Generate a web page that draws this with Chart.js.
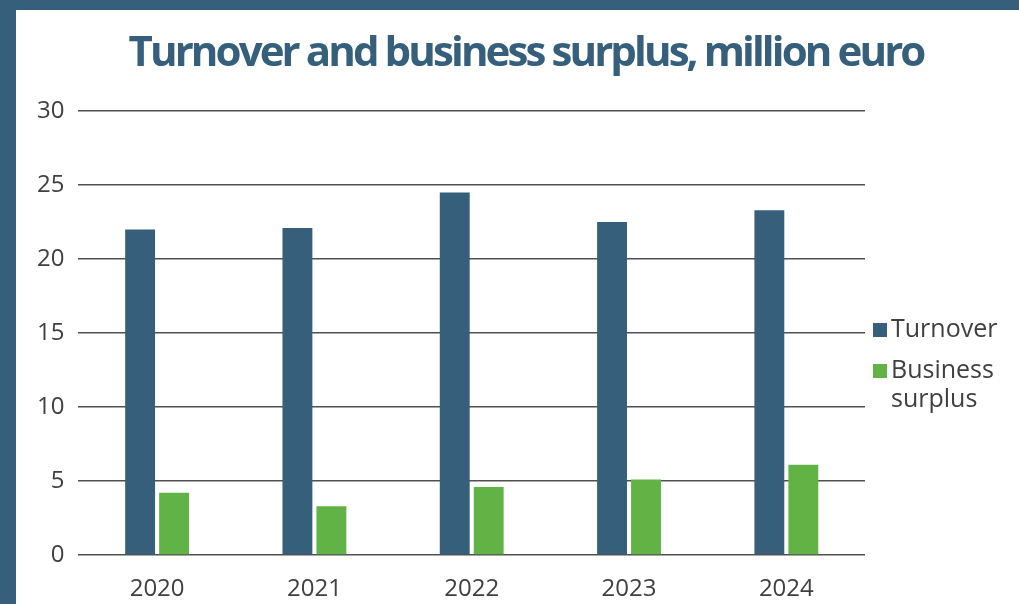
<!DOCTYPE html>
<html>
	<head>
		<title>Turnover and business surplus</title>
		<meta name="viewport" content="width=device-width, initial-scale=1">
		<style>
html, body {
	margin: 0;
	padding: 0;
	background-color: #365f7b;
	overflow: hidden;
}
	.frame {
		position: absolute;
		left: 16px;
		top: 10px;
		width: 1003px;
		height: 594px;
		background-color: #ffffff;
	}
	canvas {
		position: absolute;
		left: 0;
		top: 0;
	}
	h1 {
		position: absolute;
		left: 17px;
		width: 986px;
		top: 14px;
		margin: 0;
		text-align: center;
		font-family: "Open Sans", sans-serif;
		font-size: 42px;
		font-weight: 700;
		letter-spacing: -2.9px;
		line-height: 52px;
		color: #365f7b;
		white-space: nowrap;
	}
		</style>
	</head>
	<body>
		<div class="frame">
			<canvas id="barChart" width="1003" height="594"></canvas>
			<h1>Turnover and business surplus, million euro</h1>
		</div>

		<script src="https://cdn.jsdelivr.net/npm/chart.js"></script>
		<script>
			// Yearly figures, million euro
			const years = ['2020', '2021', '2022', '2023', '2024'];
			const turnover = [22.0, 22.1, 24.5, 22.5, 23.3];
			const businessSurplus = [4.2, 3.3, 4.6, 5.1, 6.1];
			const seriesNames = [['Turnover'], ['Business', 'surplus']];

			const textColor = '#404040';
			const ctx = document.getElementById('barChart').getContext('2d');

			// legend drawn next to the plot area, box close to the text
			const sideLegend = {
				id: 'sideLegend',
				afterDraw(chart) {
					const c = chart.ctx;
					const area = chart.chartArea;
					const mid = (area.top + area.bottom) / 2;
					const lineH = 29;
					let y = mid - 3;
					c.save();
					c.font = '25px "Open Sans"';
					c.textBaseline = 'middle';
					c.textAlign = 'left';
					chart.data.datasets.forEach((ds, i) => {
						c.fillStyle = ds.backgroundColor;
						c.fillRect(area.right + 8, y - 7, 14, 14);
						c.fillStyle = textColor;
						seriesNames[i].forEach((line, j) => {
							c.fillText(line, area.right + 26, y + j * lineH);
						});
						y += 41;
					});
					c.restore();
				}
			};

			const barChart = new Chart(ctx, {
				type: 'bar',
				data: {
					labels: years,
					datasets: [{
						label: 'Turnover',
						data: turnover,
						backgroundColor: '#365f7b',
						categoryPercentage: 0.432,
						barPercentage: 0.88
					},
						{
							label: 'Business surplus',
							data: businessSurplus,
							backgroundColor: '#62b346',
							categoryPercentage: 0.432,
							barPercentage: 0.88
						}]
				},
				options: {
					responsive: false,
					animation: false,
					layout: {
						padding: { left: 7, right: 154, top: 101, bottom: 0 }
					},
					plugins: {
						legend: { display: false },
						tooltip: { enabled: false }
					},
					scales: {
						x: {
							grid: { display: false, drawTicks: false },
							border: { display: false },
							afterFit(scale) {
								scale.height = 49;
							},
							ticks: {
								color: textColor,
								font: { family: 'Open Sans', size: 24 },
								padding: 20
							}
						},
						y: {
							min: 0,
							max: 30,
							grid: { color: '#505050', lineWidth: 1.5, drawTicks: false },
							border: { display: false },
							ticks: {
								stepSize: 5,
								color: textColor,
								font: { family: 'Open Sans', size: 24 },
								padding: 14
							}
						}
					}
				},
				plugins: [sideLegend]
			});
		</script>
	</body>
</html>
